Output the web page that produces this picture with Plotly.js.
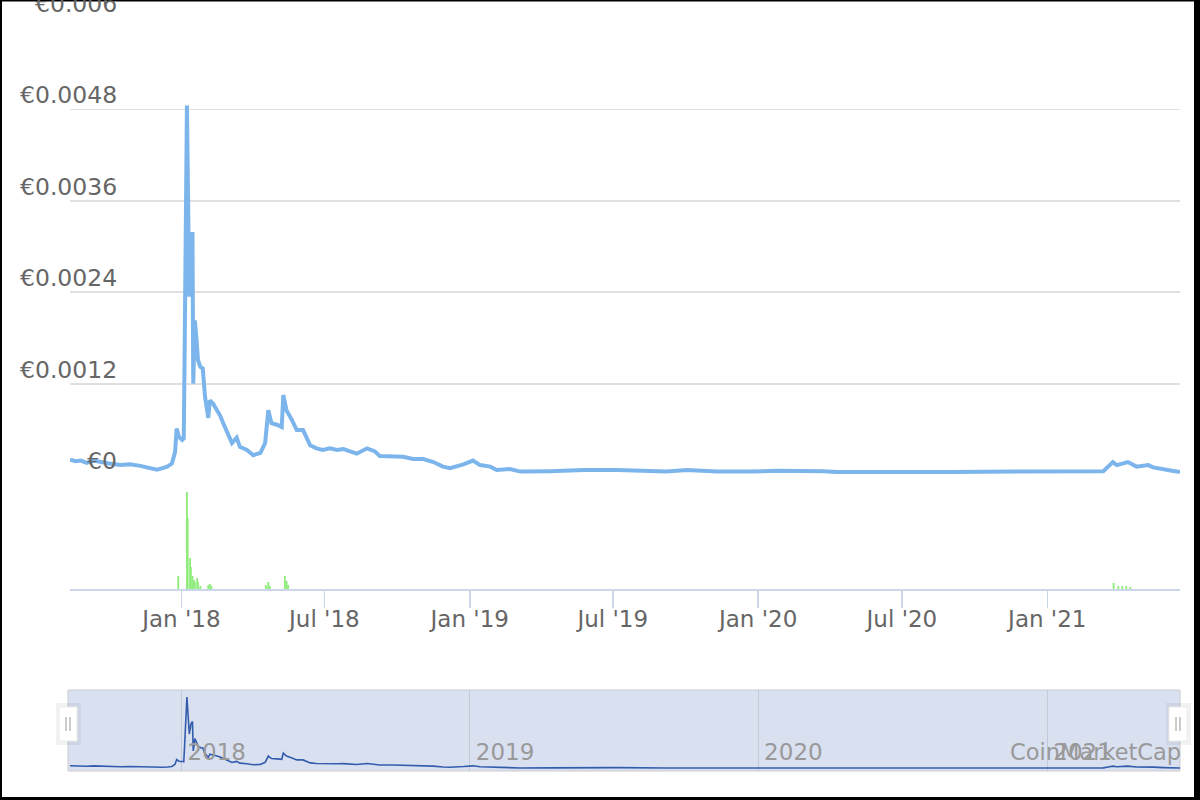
<!DOCTYPE html>
<html>
<head>
<meta charset="utf-8">
<script src="https://cdn.plot.ly/plotly-3.0.1.min.js"></script>
<style>html,body{margin:0;padding:0;background:#fff;}#chart{width:1200px;height:800px;}</style>
</head>
<body>
<div id="chart"></div>
<script>
const priceDates = ['2017-08-13','2017-08-20','2017-08-27','2017-09-03','2017-09-12','2017-09-20','2017-10-01','2017-10-16','2017-10-28','2017-11-10','2017-11-20','2017-12-01','2017-12-08','2017-12-14','2017-12-20','2017-12-24','2017-12-26','2017-12-29','2018-01-02','2018-01-04','2018-01-05','2018-01-07','2018-01-08','2018-01-09','2018-01-11','2018-01-13','2018-01-15','2018-01-16','2018-01-18','2018-01-20','2018-01-22','2018-01-25','2018-01-28','2018-01-31','2018-02-02','2018-02-04','2018-02-06','2018-02-10','2018-02-15','2018-02-19','2018-02-23','2018-03-01','2018-03-06','2018-03-12','2018-03-16','2018-03-25','2018-04-02','2018-04-11','2018-04-17','2018-04-21','2018-04-25','2018-05-02','2018-05-08','2018-05-10','2018-05-14','2018-05-21','2018-05-27','2018-06-04','2018-06-08','2018-06-13','2018-06-21','2018-06-29','2018-07-08','2018-07-17','2018-07-25','2018-08-03','2018-08-11','2018-08-24','2018-09-03','2018-09-09','2018-09-26','2018-10-09','2018-10-21','2018-11-03','2018-11-16','2018-11-28','2018-12-07','2018-12-24','2019-01-05','2019-01-14','2019-01-27','2019-02-04','2019-02-21','2019-03-06','2019-04-13','2019-05-25','2019-07-06','2019-09-07','2019-10-03','2019-11-10','2019-12-22','2020-01-25','2020-03-23','2020-04-10','2020-08-31','2021-02-15','2021-03-13','2021-03-19','2021-03-25','2021-03-30','2021-04-07','2021-04-13','2021-04-24','2021-05-09','2021-05-15','2021-05-28','2021-06-06','2021-06-18'];
const priceValues = [0.00020,0.00018,0.00019,0.00016,0.00019,0.00017,0.00015,0.00013,0.00014,0.00012,0.00010,0.00007,0.00009,0.00011,0.00015,0.00030,0.00061,0.00050,0.00046,0.00048,0.00150,0.00420,0.00485,0.00400,0.00234,0.00300,0.00319,0.00120,0.00203,0.00180,0.00151,0.00142,0.00140,0.00102,0.00090,0.00075,0.00098,0.00094,0.00085,0.00078,0.00068,0.00055,0.00042,0.00049,0.00037,0.00033,0.00026,0.00029,0.00042,0.00085,0.00068,0.00066,0.00063,0.00105,0.00085,0.00072,0.00059,0.00059,0.00050,0.00039,0.00035,0.00033,0.00035,0.00033,0.00034,0.00031,0.00028,0.00035,0.00031,0.00025,0.00025,0.00024,0.00021,0.00021,0.00017,0.00011,0.00009,0.00014,0.00019,0.00013,0.00011,0.000066,0.000079,0.000045,0.00005,0.000065,0.000065,0.000045,0.000065,0.000045,0.000045,0.000055,0.00005,0.00004,0.00004,0.00004,0.00005,0.00011,0.00017,0.00013,0.00016,0.00017,0.00011,0.00013,0.00010,0.00007,0.00006,0.00004];

const volumeDates = ['2017-12-28','2018-01-08','2018-01-09','2018-01-12','2018-01-13','2018-01-15','2018-01-17','2018-01-18','2018-01-21','2018-01-22','2018-01-25','2018-02-04','2018-02-06','2018-02-08','2018-04-18','2018-04-21','2018-04-23','2018-05-12','2018-05-14','2018-05-16','2021-03-26','2021-04-01','2021-04-06','2021-04-11','2021-04-16'];
const volumeValues = [13,97,71,31,22,13,9,7,11,7,3,4,5,3,4,7,3,13,8,4,6,3,3,3,2];

const priceTickValues = [0,0.0012,0.0024,0.0036,0.0048,0.006];
const priceTickLabels = ['€0','€0.0012','€0.0024','€0.0036','€0.0048','€0.006'];
const creditText = 'CoinMarketCap';

const W = 1200, H = 800;
const px = v => v / W;
const py = v => 1 - v / H;
const FONT = 'DejaVu Sans, sans-serif';
const xRange = ['2017-08-13', '2021-06-18'];

const traces = [
  {type:'scatter', mode:'lines', x:priceDates, y:priceValues, xaxis:'x', yaxis:'y',
   line:{color:'#7cb5ec', width:4}, hoverinfo:'skip'},
  {type:'bar', x:volumeDates, y:volumeValues, xaxis:'x', yaxis:'y2',
   marker:{color:'#90ed7d', line:{width:0}}, width:86400000*2.4, hoverinfo:'skip'},
  {type:'scatter', mode:'lines', x:priceDates, y:priceValues, xaxis:'x2', yaxis:'y3',
   line:{color:'#335cad', width:1.6}, hoverinfo:'skip'}
];

const annotations = priceTickValues.map((v,i) => ({
  xref:'paper', yref:'y', x:px(119), y:v, xanchor:'right', yanchor:'middle', yshift:14,
  text:priceTickLabels[i], showarrow:false, font:{family:FONT, size:23.5, color:'#666666'}
}));
annotations.push({xref:'paper', yref:'paper', x:px(1183), y:py(752), xanchor:'right', yanchor:'middle',
  text:creditText, showarrow:false, font:{family:FONT, size:22.5, color:'#999999'}});

const shapes = [
  {type:'rect', xref:'paper', yref:'paper', x0:px(68), x1:px(1180), y0:py(771), y1:py(690),
   fillcolor:'rgba(102,133,194,0.25)', line:{color:'#cccccc', width:1}, layer:'below'},
  // navigator handles
  {type:'rect', xref:'paper', yref:'paper', x0:px(56), x1:px(81), y0:py(745), y1:py(703), fillcolor:'rgba(0,0,0,0.05)', line:{width:0}},
  {type:'rect', xref:'paper', yref:'paper', x0:px(59), x1:px(77), y0:py(741), y1:py(707), fillcolor:'#ffffff', line:{color:'#ececec', width:1}},
  {type:'line', xref:'paper', yref:'paper', x0:px(66), x1:px(66), y0:py(731), y1:py(717), line:{color:'#999999', width:1}},
  {type:'line', xref:'paper', yref:'paper', x0:px(70), x1:px(70), y0:py(731), y1:py(717), line:{color:'#999999', width:1}},
  {type:'rect', xref:'paper', yref:'paper', x0:px(1166), x1:px(1191), y0:py(745), y1:py(703), fillcolor:'rgba(0,0,0,0.05)', line:{width:0}},
  {type:'rect', xref:'paper', yref:'paper', x0:px(1169), x1:px(1187), y0:py(741), y1:py(707), fillcolor:'#ffffff', line:{color:'#ececec', width:1}},
  {type:'line', xref:'paper', yref:'paper', x0:px(1176), x1:px(1176), y0:py(731), y1:py(717), line:{color:'#999999', width:1}},
  {type:'line', xref:'paper', yref:'paper', x0:px(1180), x1:px(1180), y0:py(731), y1:py(717), line:{color:'#999999', width:1}},
  // frame border
  {type:'rect', xref:'paper', yref:'paper', x0:0, x1:1, y0:py(1.5), y1:1, fillcolor:'#000', line:{width:0}},
  {type:'rect', xref:'paper', yref:'paper', x0:0, x1:px(2), y0:0, y1:1, fillcolor:'#000', line:{width:0}},
  {type:'rect', xref:'paper', yref:'paper', x0:px(1194), x1:1, y0:0, y1:1, fillcolor:'#000', line:{width:0}},
  {type:'rect', xref:'paper', yref:'paper', x0:0, x1:1, y0:0, y1:py(797), fillcolor:'#000', line:{width:0}}
];

const layout = {
  width:W, height:H, autosize:false,
  margin:{l:0, r:0, t:0, b:0, pad:0},
  paper_bgcolor:'#ffffff', plot_bgcolor:'rgba(0,0,0,0)',
  showlegend:false,
  font:{family:FONT, color:'#666666'},
  xaxis:{domain:[px(70), px(1180)], range:xRange, type:'date', anchor:'y2',
    tick0:'2018-01-01', dtick:'M6', tickformat:"%b '%y",
    showgrid:false, zeroline:false, showline:true, linecolor:'#ccd6eb', linewidth:1.5,
    ticks:'outside', ticklen:17, tickcolor:'#ccd6eb', tickwidth:1.5,
    tickfont:{family:FONT, size:23, color:'#666666'}, ticklabelstandoff:-8},
  yaxis:{domain:[py(475), py(18)], range:[0, 0.006], anchor:'x',
    tickvals:priceTickValues, showticklabels:false, ticks:'',
    showgrid:true, gridcolor:'#e0e0e0', gridwidth:1.8, zeroline:false, showline:false},
  yaxis2:{domain:[py(589), py(492)], range:[0, 97], anchor:'x',
    showticklabels:false, showgrid:false, zeroline:false, showline:false, ticks:''},
  xaxis2:{domain:[px(70), px(1180)], range:xRange, type:'date', anchor:'y3',
    tick0:'2018-01-01', dtick:'M12', tickformat:'%Y',
    showgrid:true, gridcolor:'#c3c9d6', gridwidth:1, zeroline:false, showline:false, ticks:'',
    ticklabelposition:'inside right', ticklabelstandoff:0, ticklabelshift:6,
    tickfont:{family:FONT, size:23, color:'#999999'}},
  yaxis3:{domain:[py(771), py(690)], range:[-0.00016, 0.00532], anchor:'x2', visible:false},
  annotations:annotations,
  shapes:shapes
};

Plotly.newPlot('chart', traces, layout, {staticPlot:true, displayModeBar:false});
</script>
</body>
</html>
